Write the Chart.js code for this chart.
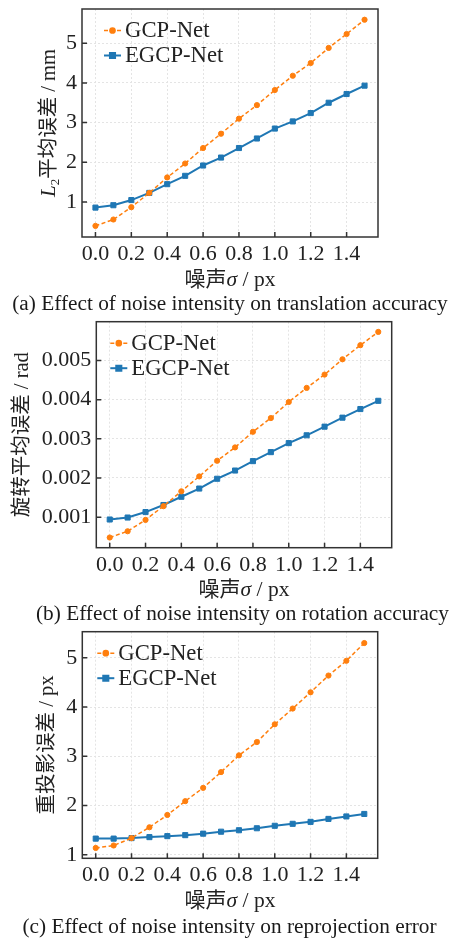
<!DOCTYPE html>
<html>
<head>
<meta charset="utf-8">
<script src="https://cdn.jsdelivr.net/npm/chart.js@4.4.1/dist/chart.umd.min.js"></script>
<style>
  html, body { margin: 0; padding: 0; background: #fff; }
  body { width: 450px; height: 939px; position: relative; overflow: hidden; }
  canvas { position: absolute; left: 0; }
  .caption {
    position: absolute; width: 450px; text-align: center; white-space: nowrap;
    font-family: 'Liberation Serif', 'Noto Sans CJK SC', serif;
    font-size: 21.3px; line-height: 24px; color: #1a1a1a;
  }
</style>
</head>
<body>
<canvas id="chartA" width="450" height="292" style="top:0px"></canvas>
<div class="caption" style="top:291px; left:5px">(a) Effect of noise intensity on translation accuracy</div>
<canvas id="chartB" width="450" height="292" style="top:312px"></canvas>
<div class="caption" style="top:601px; left:17.5px">(b) Effect of noise intensity on rotation accuracy</div>
<canvas id="chartC" width="450" height="292" style="top:622px"></canvas>
<div class="caption" style="top:914px; left:4.5px">(c) Effect of noise intensity on reprojection error</div>

<script>
// ------------------- DATOS -------------------

// Nivel de ruido (px)
const noise = [0.0, 0.1, 0.2, 0.3, 0.4, 0.5, 0.6, 0.7, 0.8, 0.9, 1.0, 1.1, 1.2, 1.3, 1.4, 1.5];

const seriesNames = ['GCP-Net', 'EGCP-Net'];

// (a) error de traslación L2 (mm)
const gcpTrans  = [0.40, 0.56, 0.87, 1.23, 1.62, 1.97, 2.36, 2.72, 3.10, 3.44, 3.82, 4.18, 4.50, 4.88, 5.23, 5.59];
const egcpTrans = [0.86, 0.92, 1.05, 1.23, 1.45, 1.66, 1.92, 2.12, 2.36, 2.60, 2.85, 3.03, 3.24, 3.50, 3.72, 3.93];

// (b) error de rotación (rad)
const gcpRot  = [0.00048, 0.00064, 0.00093, 0.00128, 0.00166, 0.00204, 0.00244, 0.00278, 0.00318, 0.00353, 0.00394, 0.00430, 0.00464, 0.00503, 0.00539, 0.00573];
const egcpRot = [0.00094, 0.00099, 0.00113, 0.00131, 0.00152, 0.00173, 0.00198, 0.00219, 0.00243, 0.00266, 0.00289, 0.00309, 0.00331, 0.00354, 0.00376, 0.00397];

// (c) error de reproyección (px)
const gcpReproj  = [1.14, 1.19, 1.34, 1.56, 1.81, 2.09, 2.36, 2.68, 3.02, 3.29, 3.65, 3.97, 4.30, 4.64, 4.94, 5.30];
const egcpReproj = [1.33, 1.33, 1.34, 1.36, 1.38, 1.40, 1.43, 1.47, 1.50, 1.54, 1.59, 1.63, 1.67, 1.73, 1.78, 1.83];

// ------------------- ESTILO -------------------

const SERIF = "'Liberation Serif', 'Noto Sans CJK SC', serif";
const CJK = "'Noto Sans CJK SC', 'Liberation Serif', sans-serif";
const ORANGE = '#ff7f0e';
const BLUE = '#1f77b4';
const INK = '#222';

// Título del eje x, compartido por los tres gráficos
const xTitleParts = [
  { text: '噪声', font: '21px ' + CJK },
  { text: 'σ', font: 'italic 21.5px ' + SERIF },
  { text: ' / px', font: '21.5px ' + SERIF }
];

// Dibuja texto con varias fuentes, centrado en (cx, cy)
function drawRich(ctx, parts, cx, cy, rot) {
  ctx.save();
  ctx.translate(cx, cy);
  ctx.rotate(rot);
  let total = 0;
  parts.forEach(p => { ctx.font = p.font; p.w = ctx.measureText(p.text).width; total += p.w; });
  let x = -total / 2;
  ctx.textBaseline = 'alphabetic';
  ctx.fillStyle = INK;
  parts.forEach(p => {
    ctx.font = p.font;
    ctx.fillText(p.text, x, 7 + (p.dy || 0));
    x += p.w;
  });
  ctx.restore();
}

// Marco, ticks hacia dentro, títulos y leyenda dentro del área
const paperStyle = {
  id: 'paperStyle',
  afterDraw(chart, args, opts) {
    const { ctx, chartArea: a } = chart;
    const xs = chart.scales.x, ys = chart.scales.y;

    ctx.save();
    ctx.strokeStyle = '#333';
    ctx.lineWidth = 1.5;
    ctx.beginPath();
    xs.ticks.forEach(t => {
      const px = xs.getPixelForValue(t.value);
      ctx.moveTo(px, a.bottom); ctx.lineTo(px, a.bottom - 5);
    });
    ys.ticks.forEach(t => {
      const py = ys.getPixelForValue(t.value);
      ctx.moveTo(a.left, py); ctx.lineTo(a.left + 5, py);
    });
    ctx.stroke();
    ctx.strokeRect(a.left, a.top, a.right - a.left, a.bottom - a.top);
    ctx.restore();

    drawRich(ctx, xTitleParts, (a.left + a.right) / 2, a.bottom + 41.5, 0);
    drawRich(ctx, opts.yTitle, opts.yTitleX, (a.top + a.bottom) / 2, -Math.PI / 2);

    // leyenda
    chart.data.datasets.forEach((ds, i) => {
      const y = a.top + 21.5 + i * 25;
      const x0 = a.left + opts.legendX;
      const x1 = x0 + 17;
      ctx.save();
      ctx.strokeStyle = ds.borderColor;
      ctx.lineWidth = ds.borderWidth;
      ctx.setLineDash(ds.borderDash || []);
      ctx.beginPath(); ctx.moveTo(x0, y); ctx.lineTo(x1, y); ctx.stroke();
      ctx.setLineDash([]);
      ctx.fillStyle = ds.pointBackgroundColor;
      ctx.strokeStyle = ds.pointBorderColor;
      Chart.helpers.drawPoint(ctx, { pointStyle: ds.pointStyle, radius: ds.pointRadius, rotation: 0, borderWidth: 1 }, (x0 + x1) / 2, y);
      ctx.fillStyle = INK;
      ctx.font = '22.7px ' + SERIF;
      ctx.textBaseline = 'middle';
      ctx.fillText(ds.label, x1 + 4, y + 1);
      ctx.restore();
    });
  }
};

function makeSeries(values) {
  return noise.map((x, i) => ({ x, y: values[i] }));
}

function makeChart(id, gcp, egcp, cfg) {
  const ctx = document.getElementById(id).getContext('2d');
  return new Chart(ctx, {
    type: 'line',
    data: {
      datasets: [{
        label: seriesNames[0],
        data: makeSeries(gcp),
        borderColor: ORANGE,
        borderWidth: 1.5,
        borderDash: [4, 2.5],
        pointStyle: 'circle',
        pointRadius: 2.6,
        pointBackgroundColor: ORANGE,
        pointBorderColor: ORANGE,
        pointBorderWidth: 1,
        tension: 0
      }, {
        label: seriesNames[1],
        data: makeSeries(egcp),
        borderColor: BLUE,
        borderWidth: 2,
        pointStyle: 'rect',
        pointRadius: 3.6,
        pointBackgroundColor: BLUE,
        pointBorderColor: BLUE,
        pointBorderWidth: 1,
        tension: 0
      }]
    },
    options: {
      responsive: false,
      animation: false,
      layout: { padding: { left: 0, top: cfg.top, right: cfg.right, bottom: 0 } },
      scales: {
        x: {
          type: 'linear',
          min: -0.075,
          max: 1.575,
          afterFit: s => { s.height = cfg.xHeight; s.paddingLeft = 0; s.paddingRight = 0; },
          grid: { color: '#e4e4e4', lineWidth: 1, drawTicks: false },
          border: { display: false, dash: [2, 2] },
          ticks: {
            stepSize: 0.2,
            includeBounds: false,
            padding: 4,
            color: INK,
            font: { family: SERIF, size: 22 },
            maxRotation: 0,
            callback: v => v.toFixed(1)
          }
        },
        y: {
          min: cfg.yMin,
          max: cfg.yMax,
          afterFit: s => { s.width = cfg.left; s.paddingTop = 0; s.paddingBottom = 0; },
          grid: { color: '#e4e4e4', lineWidth: 1, drawTicks: false },
          border: { display: false, dash: [2, 2] },
          ticks: {
            stepSize: cfg.yStep,
            includeBounds: false,
            padding: 5,
            color: INK,
            font: { family: SERIF, size: 22 },
            callback: v => v.toFixed(cfg.yDigits)
          }
        }
      },
      plugins: {
        legend: { display: false },
        tooltip: { enabled: false },
        paperStyle: { yTitle: cfg.yTitle, yTitleX: cfg.yTitleX, legendX: cfg.legendX }
      }
    },
    plugins: [paperStyle]
  });
}

// ------------------- GRÁFICOS -------------------

makeChart('chartA', gcpTrans, egcpTrans, {
  top: 9, right: 72, left: 82, xHeight: 55,
  yMin: 0.12, yMax: 5.86, yStep: 1, yDigits: 0,
  yTitleX: 48, legendX: 22,
  yTitle: [
    { text: 'L', font: 'italic 21px ' + SERIF },
    { text: '2', font: '13px ' + SERIF, dy: 4 },
    { text: '平均误差 / mm', font: '20.5px ' + SERIF }
  ]
});

makeChart('chartB', gcpRot, egcpRot, {
  top: 9.7, right: 58.3, left: 96.3, xHeight: 56.3,
  yMin: 0.00022, yMax: 0.00599, yStep: 0.001, yDigits: 3,
  yTitleX: 21, legendX: 14,
  yTitle: [{ text: '旋转平均误差 / rad', font: '20.5px ' + SERIF }]
});

makeChart('chartC', gcpReproj, egcpReproj, {
  top: 9.7, right: 72.3, left: 82.3, xHeight: 55.7,
  yMin: 0.93, yMax: 5.53, yStep: 1, yDigits: 0,
  yTitleX: 46, legendX: 15,
  yTitle: [{ text: '重投影误差 / px', font: '20.5px ' + SERIF }]
});
</script>
</body>
</html>
